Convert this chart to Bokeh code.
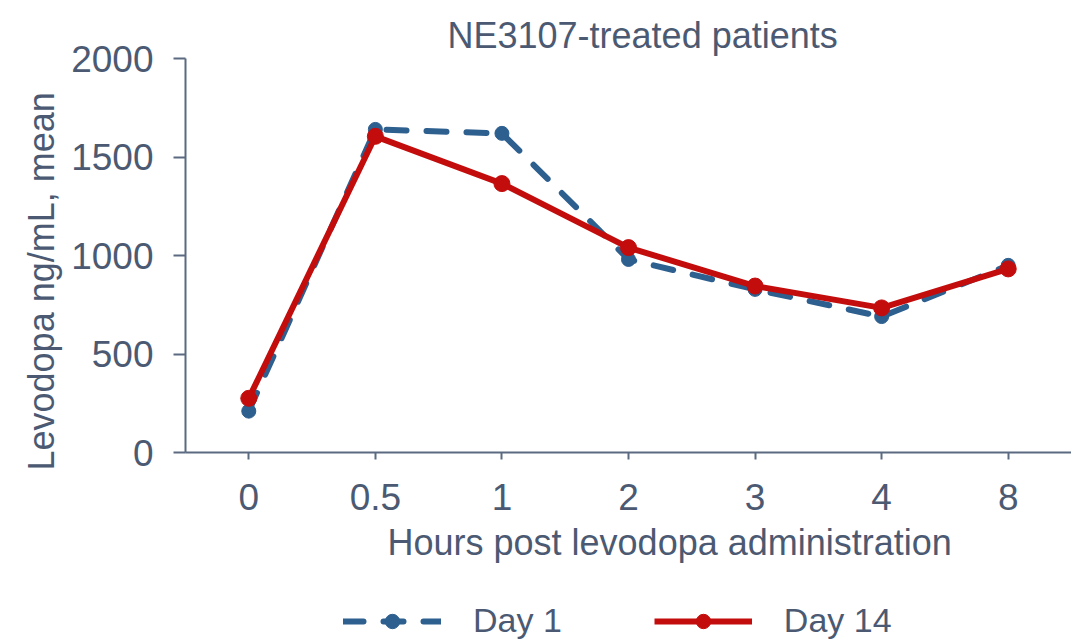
from bokeh.plotting import figure
from bokeh.layouts import column
from bokeh.models import Range1d, FactorRange, Legend, LegendItem, ColumnDataSource, Title
from bokeh.embed import file_html
from bokeh.resources import INLINE

hours = ["0", "0.5", "1", "2", "3", "4", "8"]
day1 = [210, 1640, 1620, 980, 828, 690, 950]
day14 = [275, 1605, 1365, 1040, 845, 734, 932]
series_names = ["Day 1", "Day 14"]

FONT = "Liberation Sans"
TXT = "#4b5a72"
AX = "#5b6a80"
BLUE = "#2d5f8f"
RED = "#c30d0d"

src = ColumnDataSource(dict(h=hours, d1=day1, d14=day14))

p = figure(x_range=FactorRange(*hours), y_range=Range1d(0, 2000),
           frame_width=886, frame_height=394, output_backend="svg", toolbar_location=None,
           min_border_left=185, min_border_right=0, min_border_top=58, min_border_bottom=144)
p.outline_line_color = None
p.xgrid.visible = False
p.ygrid.visible = False

p.add_layout(Title(text="NE3107-treated patients", text_font=FONT, text_font_size="36px",
                   text_font_style="normal", text_color=TXT, align="left",
                   offset=262, standoff=5), "above")

for ax in (p.xaxis[0], p.yaxis[0]):
    ax.axis_line_color = AX
    ax.axis_line_width = 2
    ax.major_tick_line_color = AX
    ax.major_tick_line_width = 2
    ax.major_tick_in = 0
    ax.major_label_text_font = FONT
    ax.major_label_text_font_size = "37px"
    ax.major_label_text_color = TXT

p.xaxis.major_tick_out = 7
p.xaxis.major_label_standoff = 24

p.yaxis.ticker = [0, 500, 1000, 1500, 2000]
p.yaxis.minor_tick_line_color = None
p.yaxis.major_tick_out = 12
p.yaxis.major_label_standoff = 20

p.add_layout(Title(text="Hours post levodopa administration", text_font=FONT,
                   text_font_size="36px", text_font_style="normal", text_color=TXT,
                   align="left", offset=202, standoff=14), "below")
p.add_layout(Title(text="Levodopa ng/mL, mean", text_font=FONT,
                   text_font_size="36px", text_font_style="normal", text_color=TXT,
                   align="left", offset=-18, standoff=14), "left")

p.line("h", "d1", source=src, line_color=BLUE, line_width=6,
       line_dash="20 20", line_cap="round")
p.scatter("h", "d1", source=src, size=14, fill_color=BLUE, line_color=BLUE)
p.line("h", "d14", source=src, line_color=RED, line_width=6)
p.scatter("h", "d14", source=src, size=16, fill_color=RED, line_color=RED)

# legend strip below the chart (series drawn out of view; only legend shown)
p2 = figure(width=1071, height=44, x_range=FactorRange(*hours), y_range=Range1d(-5000, -4000),
            x_axis_type=None, y_axis_type=None, output_backend="svg", toolbar_location=None,
            min_border=0)
p2.outline_line_color = None
g1 = p2.line("h", "d1", source=src, line_color=BLUE, line_width=6, line_dash="20 20", line_cap="round")
m1 = p2.scatter("h", "d1", source=src, size=14, fill_color=BLUE, line_color=BLUE)
g2 = p2.line("h", "d14", source=src, line_color=RED, line_width=6)
m2 = p2.scatter("h", "d14", source=src, size=16, fill_color=RED, line_color=RED)

legend = Legend(items=[LegendItem(label=series_names[0], renderers=[g1, m1]),
                       LegendItem(label=series_names[1], renderers=[g2, m2])],
                orientation="horizontal", location=(158, 0),
                glyph_width=98, glyph_height=36, label_standoff=32, spacing=92,
                label_text_font=FONT, label_text_font_size="34px",
                label_text_color=TXT, border_line_color=None,
                background_fill_alpha=0, margin=0, padding=0)
p2.add_layout(legend, "center")

layout = column(p, p2, spacing=0)
open("out.html", "w").write(file_html(layout, INLINE))
